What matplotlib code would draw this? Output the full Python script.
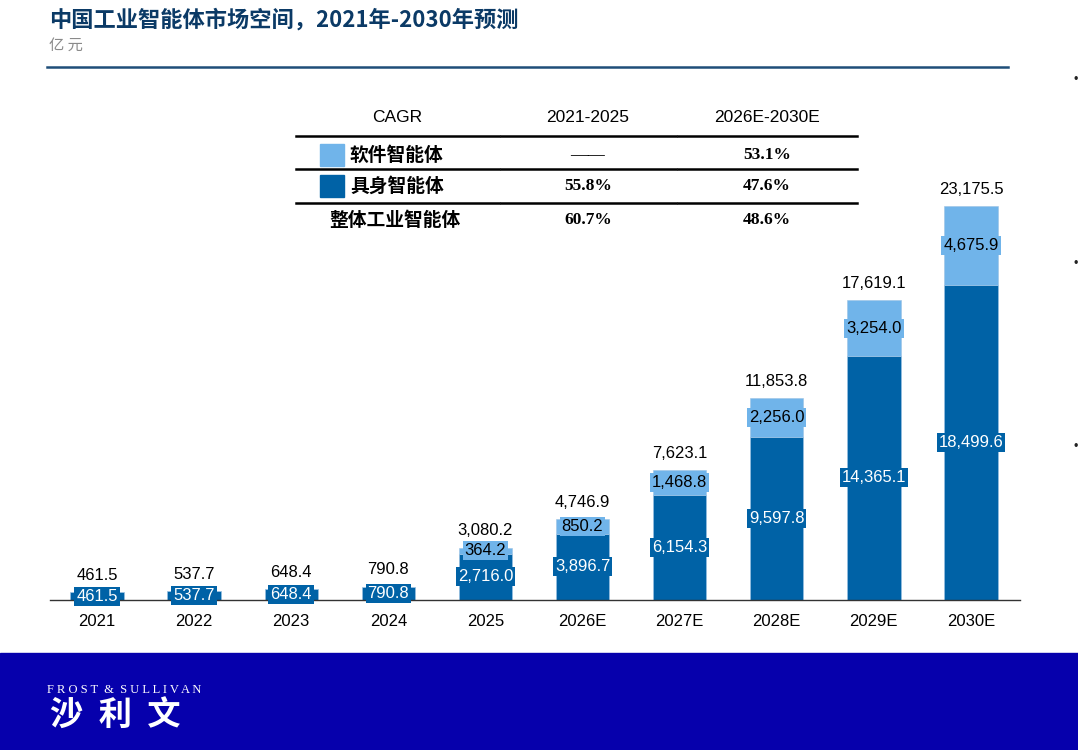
import numpy as np
import matplotlib
matplotlib.use("Agg")
import matplotlib.pyplot as plt
from matplotlib.patches import Rectangle
from matplotlib.lines import Line2D

plt.rcParams["font.family"] = ["Liberation Sans", "Noto Sans CJK SC", "DejaVu Sans"]

# ---- data (亿元) ----
years = ["2021", "2022", "2023", "2024", "2025",
         "2026E", "2027E", "2028E", "2029E", "2030E"]
embodied = [461.5, 537.7, 648.4, 790.8, 2716.0,
            3896.7, 6154.3, 9597.8, 14365.1, 18499.6]
software = [0, 0, 0, 0, 364.2, 850.2, 1468.8, 2256.0, 3254.0, 4675.9]
totals = [461.5, 537.7, 648.4, 790.8, 3080.2,
          4746.9, 7623.1, 11853.8, 17619.1, 23175.5]

cagr_cols = ["CAGR", "2021-2025", "2026E-2030E"]
cagr_rows = ["软件智能体", "具身智能体", "整体工业智能体"]
cagr_early = ["——", "55.8%", "60.7%"]
cagr_late = ["53.1%", "47.6%", "48.6%"]

DARK = "#0062A6"
LIGHT = "#70B4EA"
TITLE_C = "#0B3A66"
CJK = ["Noto Sans CJK SC", "DejaVu Sans"]
SERIF = ["Liberation Serif", "DejaVu Serif"]

W, H = 1078, 750
fig = plt.figure(figsize=(W / 100, H / 100), dpi=100)


def fx(px):
    return px / W


def fy(py):
    return 1 - py / H


# ---- title block ----
fig.text(fx(49), fy(20), "中国工业智能体市场空间，2021年-2030年预测",
         fontsize=16, fontweight="bold", color=TITLE_C, va="center", family=CJK)
fig.text(fx(49), fy(45), "亿 元", fontsize=11, color="#8a8a8a", va="center", family=CJK)
fig.add_artist(Line2D([fx(47), fx(1008)], [fy(67), fy(67)], color="#1F4E79", lw=1.8))

# right-edge bullets (cut off slide)
for py in (80, 264, 447):
    fig.text(fx(1076), fy(py), "•", fontsize=9, ha="center", va="center", color="#222")

# ---- bar chart ----
ax = fig.add_axes([fx(50), fy(600), fx(1020) - fx(50), fy(100) - fy(600)])
x = np.arange(len(years))
ax.bar(x, embodied, width=0.55, color=DARK, edgecolor="#9cc3e4", linewidth=0.4)
ax.bar(x, software, width=0.55, bottom=embodied, color=LIGHT,
       edgecolor="#9cc3e4", linewidth=0.4)
ax.set_xlim(-0.484, 9.505)
ax.set_ylim(0, 23175.5 * 500 / 394)
for s in ("top", "right", "left"):
    ax.spines[s].set_visible(False)
ax.spines["bottom"].set_color("#333333")
ax.spines["bottom"].set_linewidth(1.0)
ax.set_yticks([])
ax.set_xticks(x)
ax.set_xticklabels(years, fontsize=12)
ax.tick_params(axis="x", length=0, pad=10)

for i in range(len(years)):
    ax.text(x[i], embodied[i] / 2, f"{embodied[i]:,.1f}", ha="center", va="center",
            fontsize=12, color="white",
            bbox=dict(boxstyle="square,pad=0.12", fc=DARK, ec="none"))
    if software[i] > 0:
        ax.text(x[i], embodied[i] + software[i] / 2, f"{software[i]:,.1f}",
                ha="center", va="center", fontsize=12, color="black",
                bbox=dict(boxstyle="square,pad=0.12", fc=LIGHT, ec="none"))
    ax.annotate(f"{totals[i]:,.1f}", (x[i], totals[i]), xytext=(0, 12),
                textcoords="offset points", ha="center", va="center", fontsize=12)

# ---- CAGR table ----
col_x = [397, 588, 767]
for cx, lab in zip(col_x, cagr_cols):
    fig.text(fx(cx), fy(118), lab, fontsize=12.5, ha="center", va="center")
for y0 in (136, 169, 203):
    for a, b in ((296, 499), (501, 676), (678, 857)):
        fig.add_artist(Line2D([fx(a), fx(b)], [fy(y0), fy(y0)], color="black", lw=1.8))

row_y = [155, 186, 220]
for j, (lab, e, l) in enumerate(zip(cagr_rows, cagr_early, cagr_late)):
    if j < 2:
        fig.add_artist(Rectangle((fx(320), fy(row_y[j] + 11)), fx(24), 22 / H,
                                 color=[LIGHT, DARK][j]))
        tx = 350
    else:
        tx = 329
    fig.text(fx(tx), fy(row_y[j]), lab, fontsize=13.5, fontweight="bold", va="center",
             family=CJK)
    fig.text(fx(col_x[1]), fy(row_y[j]), e, fontsize=12.5, fontweight="bold",
             ha="center", va="center", family=SERIF)
    fig.text(fx(col_x[2]), fy(row_y[j]), l, fontsize=12.5, fontweight="bold",
             ha="center", va="center", family=SERIF)

# ---- bottom banner ----
fig.add_artist(Rectangle((0, 0), 1, fy(653), color="#0600AC", zorder=0))
fig.text(fx(47), fy(690), "F R O S T  &  S U L L I V A N", fontsize=9, color="white",
         va="center", family=SERIF)
fig.text(fx(50), fy(716), "沙  利  文", fontsize=24, color="white", va="center",
         fontweight="bold", family=CJK)

fig.savefig("out.png", dpi=100)
